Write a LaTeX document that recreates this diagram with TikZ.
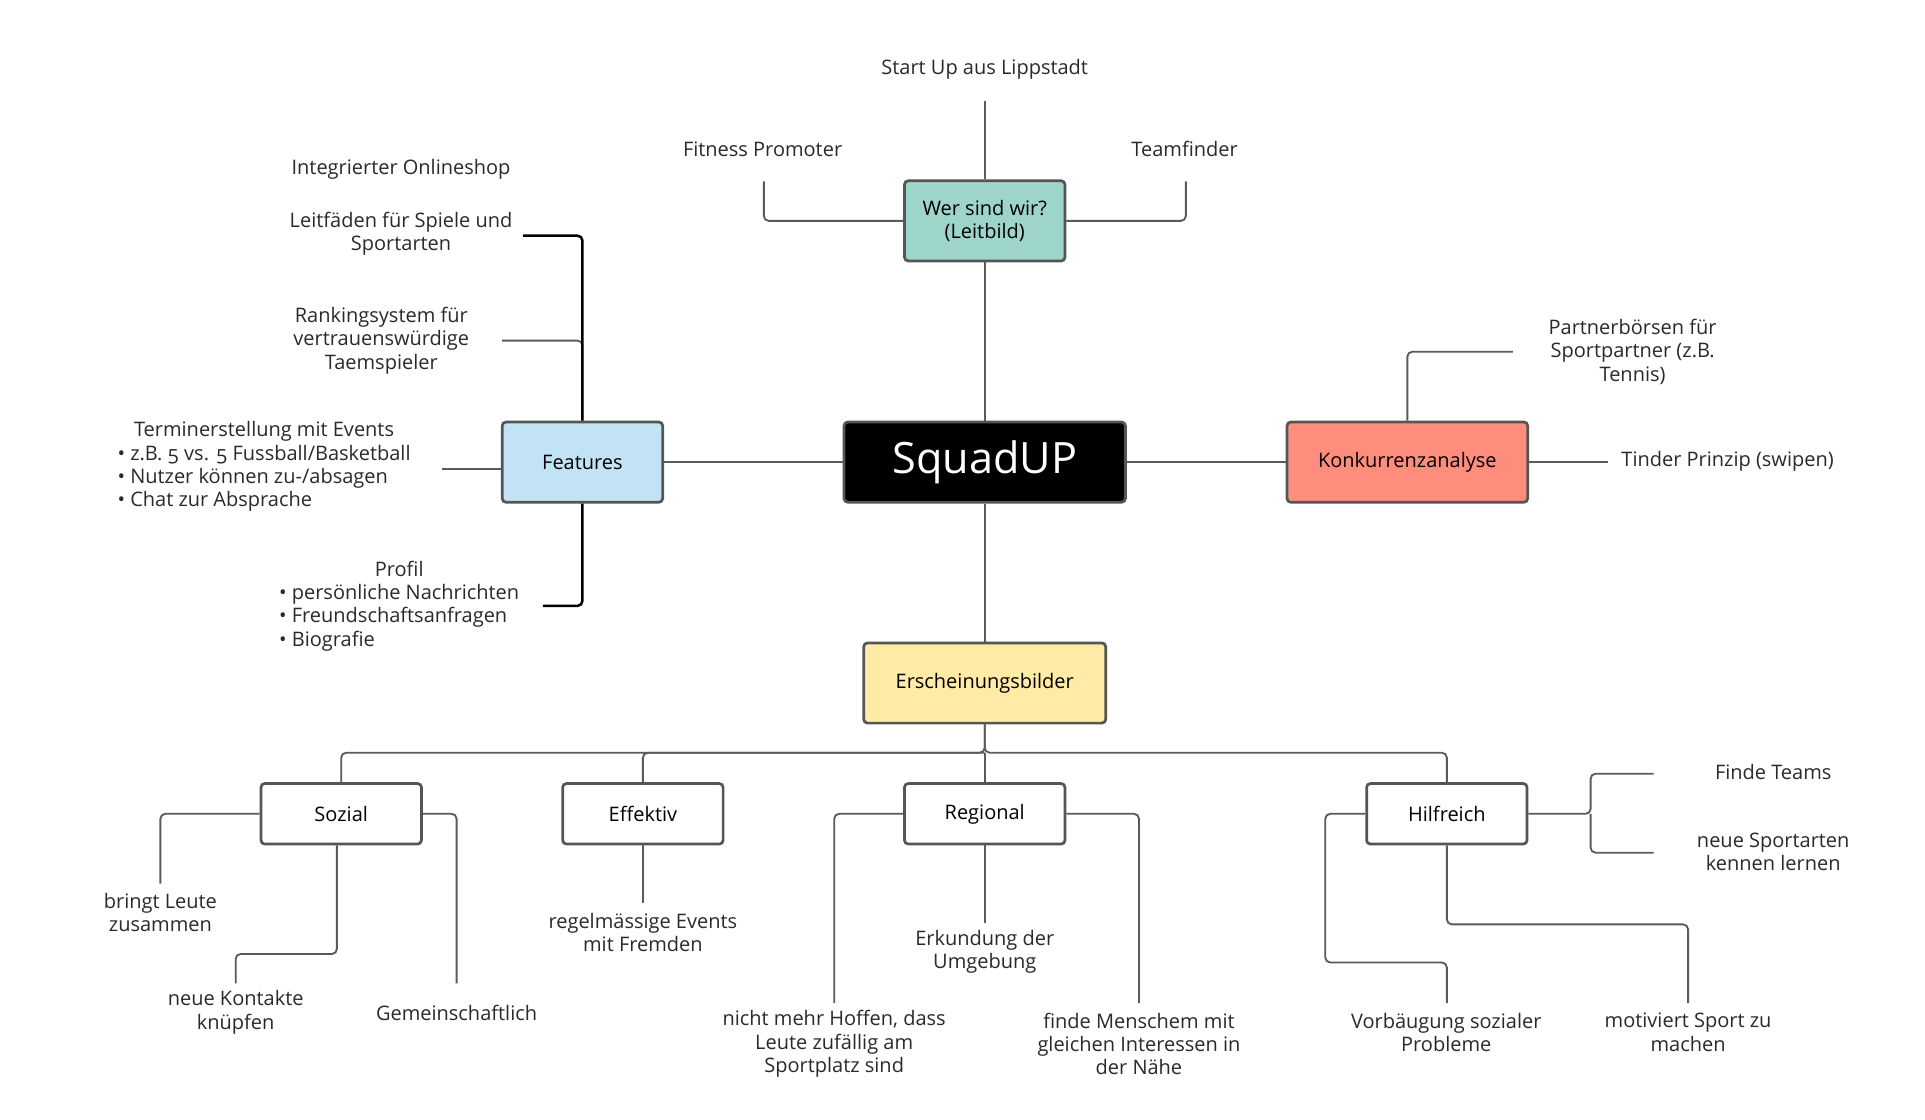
\documentclass[tikz,border=0pt]{standalone}
\usepackage{fontspec}
\setmainfont{Open Sans}[Numbers=OldStyle]
\newcommand\mylbl{\fontsize{16.2}{19}\selectfont}
\definecolor{boxc}{HTML}{555555}
\definecolor{linec}{HTML}{5A5A5A}
\definecolor{txtc}{HTML}{2A2A2A}
\definecolor{tealc}{HTML}{9DD5CA}
\definecolor{bluec}{HTML}{C2E3F5}
\definecolor{salmc}{HTML}{FE8D7D}
\definecolor{yelc}{HTML}{FFEAA6}
\begin{document}
\begin{tikzpicture}[x=1pt,y=-1pt,
  box/.style={draw=boxc, line width=2.2pt, rounded corners=3pt, minimum width=130pt, minimum height=49pt, inner sep=0pt, font=\mylbl, text=black, align=center},
  bigbox/.style={box, minimum height=65pt},
  lab/.style={align=center, text=txtc, font=\mylbl, inner sep=0pt},
  conn/.style={draw=linec, line width=1.5pt, rounded corners=4pt},
  hot/.style={draw=black, line width=2pt, rounded corners=4pt}]
\useasboundingbox[fill=white] (0,0) rectangle (1560,907);

% main boxes
\node[bigbox, fill=black, text=white, minimum width=228pt, font=\fontsize{35}{40}\selectfont] (sq) at (798,374.5) {SquadUP};
\node[bigbox, fill=tealc] (wer) at (798,179) {Wer sind wir?\\(Leitbild)};
\node[bigbox, fill=bluec] (feat) at (472,374.5) {Features};
\node[bigbox, fill=salmc, minimum width=195pt] (konk) at (1140.5,374.5) {Konkurrenzanalyse};
\node[bigbox, fill=yelc, minimum width=196pt] (ersch) at (798,553.5) {Erscheinungsbilder};
\node[box, fill=white] (soz) at (276.5,659.5) {Sozial};
\node[box, fill=white] (eff) at (521,659.5) {Effektiv};
\node[box, fill=white] (reg) at (798,659.5) {Regional};
\node[box, fill=white] (hilf) at (1172.5,659.5) {Hilfreich};

% labels
\node[lab] (startL) at (798,56) {Start Up aus Lippstadt};
\node[lab] (fitL) at (618,121) {Fitness Promoter};
\node[lab] (teamL) at (960,121) {Teamfinder};
\node[lab] (onlL) at (325,137) {Integrierter Onlineshop};
\node[lab] (leitL) at (325,189.5) {Leitfäden für Spiele und\\Sportarten};
\node[lab] (rankL) at (309,276) {Rankingsystem für\\vertrauenswürdige\\Taemspieler};
\node[lab] (termL) at (214,378.5) {\begin{tabular}{@{}l@{}}\multicolumn{1}{@{}c@{}}{Terminerstellung mit Events}\\• z.B. 5 vs. 5 Fussball/Basketball\\• Nutzer können zu-/absagen\\• Chat zur Absprache\end{tabular}};
\node[lab] (profL) at (323.5,491.5) {\begin{tabular}{@{}l@{}}\multicolumn{1}{@{}c@{}}{Profil}\\• persönliche Nachrichten\\• Freundschaftsanfragen\\• Biografie\end{tabular}};
\node[lab] (partL) at (1323,285) {Partnerbörsen für\\Sportpartner (z.B.\\Tennis)};
\node[lab] (tindL) at (1400,374) {Tinder Prinzip (swipen)};
\node[lab] (bringL) at (130,739.5) {bringt Leute\\zusammen};
\node[lab] (kontL) at (191,820.5) {neue Kontakte\\knüpfen};
\node[lab] (gemL) at (370,821) {Gemeinschaftlich};
\node[lab] (regelL) at (521,755.5) {regelmässige Events\\mit Fremden};
\node[lab] (erkL) at (798,771.5) {Erkundung der\\Umgebung};
\node[lab] (nichtL) at (676,846) {nicht mehr Hoffen, dass\\Leute zufällig am\\Sportplatz sind};
\node[lab] (findeL) at (923,846) {finde Menschem mit\\gleichen Interessen in\\der Nähe};
\node[lab] (vorbL) at (1172,836.5) {Vorbäugung sozialer\\Probleme};
\node[lab] (motL) at (1368,836.5) {motiviert Sport zu\\machen};
\node[lab] (findTL) at (1437,626) {Finde Teams};
\node[lab] (neueL) at (1437,690.5) {neue Sportarten\\kennen lernen};

% free ends of connectors
\coordinate (startE) at (798,82);
\coordinate (fitE) at (619,147);
\coordinate (teamE) at (961,147);
\coordinate (leitE) at (424,191);
\coordinate (rankE) at (407,276);
\coordinate (termE) at (358,380);
\coordinate (profE) at (440,491);
\coordinate (partE) at (1226,285);
\coordinate (tindE) at (1303,374.5);
\coordinate (bus) at (798,610);
\coordinate (bringE) at (130,716);
\coordinate (kontE) at (191,797);
\coordinate (gemE) at (370,797);
\coordinate (regelE) at (521,732);
\coordinate (erkE) at (798,748);
\coordinate (nichtE) at (676,813);
\coordinate (findeE) at (923,813);
\coordinate (hilfL) at (1074,780);
\coordinate (vorbE) at (1172.5,813);
\coordinate (motE) at (1368,813);
\coordinate (hilfJ) at (1289,659.5);
\coordinate (findTE) at (1340,627);
\coordinate (neueE) at (1340,691);

% connectors: top
\draw[conn] (startE) -- (wer.north);
\draw[conn] (wer.west) -| (fitE);
\draw[conn] (wer.east) -| (teamE);
\draw[conn] (wer.south) -- (sq.north);
% center
\draw[conn] (sq.west) -- (feat.east);
\draw[conn] (sq.east) -- (konk.west);
\draw[conn] (sq.south) -- (ersch.north);
% features
\draw[conn] (rankE) -| (feat.north);
\draw[hot] (feat.north) |- (leitE);
\draw[hot] (feat.south) |- (profE);
\draw[conn] (termE) -- (termE -| feat.west);
% konkurrenz
\draw[conn] (konk.north) |- (partE);
\draw[conn] (konk.east) -- (tindE);
% erscheinungsbilder bus
\draw[conn] (ersch.south) -- (bus) -| (soz.north);
\draw[conn] (bus) -| (eff.north);
\draw[conn] (bus) -- (reg.north);
\draw[conn] (ersch.south) -- (bus) -| (hilf.north);
% sozial
\draw[conn] (soz.west) -| (bringE);
\draw[conn] ([xshift=-3.5pt]soz.south) -- ++(0,88) -| (kontE);
\draw[conn] (soz.east) -| (gemE);
% effektiv
\draw[conn] (eff.south) -- (regelE);
% regional
\draw[conn] (reg.south) -- (erkE);
\draw[conn] (reg.west) -| (nichtE);
\draw[conn] (reg.east) -| (findeE);
% hilfreich
\draw[conn] (hilf.west) -| (hilfL) -| (vorbE);
\draw[conn] (hilf.south) -- ++(0,64) -| (motE);
\draw[conn] (hilf.east) -- (hilfJ) |- (findTE);
\draw[conn] (hilfJ) |- (neueE);
\end{tikzpicture}
\end{document}
